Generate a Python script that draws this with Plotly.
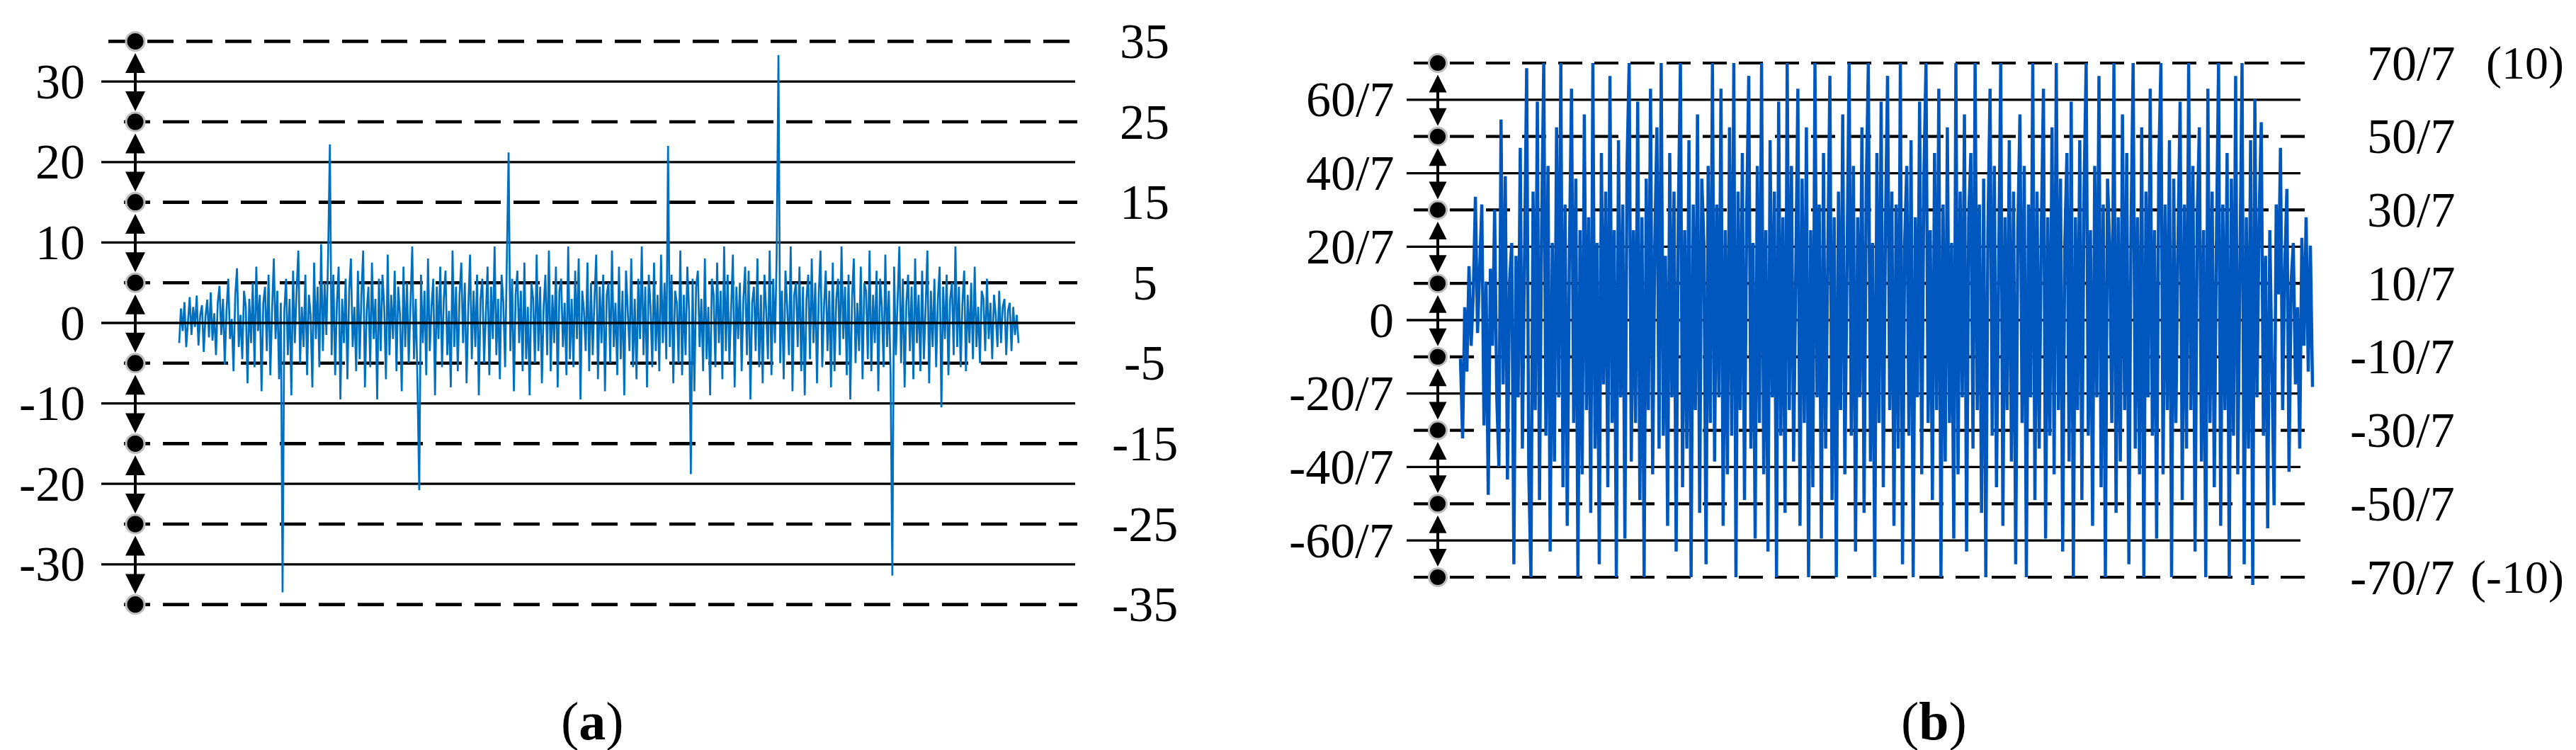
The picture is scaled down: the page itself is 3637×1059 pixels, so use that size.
import plotly.graph_objects as go

W, H = 3637, 1059
FONT = "Liberation Serif, Times New Roman, serif"

# ---- panel (a): values ----
sig_a = [
    -2.5, 1.8, -1.0, 2.6, -3.0, 0.5, 3.2, -1.5, 2.0, -0.5, 3.4, -2.8, 1.0, 2.2, -3.6, 0.8, 2.9, -1.8, 3.8, -2.2,
    1.2, -4.0, 2.5, 4.6, -1.5, 3.0, -5.2, 1.5, 5.5, -2.0, 0.5, -6.0, 3.5, 6.8, -3.0, 1.0, -4.5, 4.0, 2.0, -7.5,
    3.0, -2.5, 5.0, -5.5, 7.0, -1.0, 3.5, -8.5, 2.5, 4.5, -3.5, 6.0, -6.5, 1.5, 8.0, -2.0, 4.0, -7.0, 2.5, -33.5,
    1.5, 5.5, -4.0, 3.0, -9.0, 6.5, -2.5, 4.0, 9.0, -5.0, 2.0, -3.0, 6.0, -6.5, 3.5, 1.0, -8.0, 7.5, -2.0, 4.5,
    -5.5, 9.8, -3.5, 5.0, -1.5, 8.5, 22.2, -4.0, 6.0, -6.5, 2.5, 7.0, -9.5, 3.0, -2.5, 5.5, -7.0, 4.0, 8.0, -3.0,
    2.0, -6.0, 6.5, -4.5, 3.5, 9.0, -8.0, 1.5, 4.5, -5.5, 7.5, -2.0, 3.0, -9.5, 5.5, -3.5, 6.0, 2.0, -7.0, 8.5,
    -4.0, 3.5, -2.0, 6.5, -6.0, 4.5, 1.0, -8.5, 7.0, -3.0, 5.0, -5.0, 2.5, 9.5, -4.5, 3.0, -7.5, -20.8, 6.0, -2.5,
    4.0, -6.5, 8.0, -3.5, 2.0, 5.5, -9.0, 4.5, -2.0, 7.0, -5.5, 3.0, 6.5, -4.0, 1.5, -8.0, 9.0, -3.0, 4.5, -6.0,
    3.5, 7.5, -2.5, 5.0, -7.5, 2.0, 8.5, -4.5, 4.0, -3.0, 6.0, -9.0, 3.0, 5.5, -5.0, 1.5, 7.0, -6.5, 4.5, -2.0,
    9.5, -4.0, 3.0, -7.0, 6.0, 2.5, -5.5, 8.0, 21.2, -3.5, 5.5, -8.5, 3.5, 6.5, -2.5, 4.0, -6.0, 7.5, -4.5, 2.0,
    -9.0, 5.0, 3.0, -5.0, 8.5, -3.5, 4.5, -7.5, 2.0, 6.0, -4.0, 9.0, -6.0, 3.5, -2.5, 7.0, -8.0, 4.0, 5.5, -3.0,
    2.5, -6.5, 9.5, -4.5, 3.0, -5.5, 6.5, -2.0, 8.0, -9.5, 4.0, 1.5, -3.5, 7.5, -6.0, 5.0, -4.0, 3.0, 8.5, -7.0,
    4.5, -2.5, 6.0, -8.5, 3.5, 5.0, -5.0, 9.0, -3.0, 2.5, -6.5, 7.0, -4.5, 4.0, -9.0, 6.5, 1.5, -3.5, 8.0, -5.5,
    3.0, -7.0, 5.5, -2.0, 9.5, -4.0, 4.5, -8.0, 6.0, 2.0, -5.5, 7.5, -3.5, 3.5, -6.0, 8.5, -2.5, 5.0, -4.5, 22.0,
    -3.0, 6.0, -7.5, 4.0, 2.5, -5.0, 9.0, -6.5, 3.5, -4.0, 7.0, 1.5, -18.8, 5.5, -8.5, 4.5, 6.5, -3.0, 3.0, -6.0,
    8.0, -4.5, 2.0, -9.0, 5.5, 3.5, -5.5, 7.5, -2.5, 4.0, -7.0, 9.5, -3.5, 6.0, -5.0, 2.5, 8.5, -8.0, 4.5, -2.0,
    5.0, -6.0, 3.0, 7.0, -4.0, 6.5, -9.5, 2.5, 4.5, -3.5, 8.0, -5.5, 3.5, -7.5, 6.0, 1.5, -4.5, 9.0, -6.5, 5.5,
    -2.5, 8.5, 33.3, -5.0, 4.0, -7.0, 6.5, 2.0, -4.0, 9.5, -8.5, 3.5, 5.0, -3.0, 7.0, -6.0, 4.5, -9.0, 3.0, 6.0,
    -4.5, 8.0, -2.5, 5.0, -7.5, 3.5, 9.0, -5.5, 2.0, 6.5, -3.5, 4.0, -8.0, 7.5, -6.0, 3.0, 5.5, -4.0, 9.5, -2.0,
    4.5, -6.5, 6.0, -9.5, 3.0, 8.0, -5.0, 2.5, -3.5, 7.0, -7.0, 5.0, 4.0, -4.5, 9.0, -6.0, 3.5, -2.5, 6.5, -8.5,
    5.5, 2.0, -5.5, 8.5, -3.0, 4.0, -6.5, -31.4, 7.0, -4.0, 3.0, 9.5, -5.0, 5.5, -8.0, 2.5, 6.0, -3.5, 4.5, -7.0,
    8.0, -2.5, 3.5, -6.0, 6.5, -4.5, 2.0, 9.0, -7.5, 4.0, -3.0, 5.5, -5.5, 3.0, 7.0, -10.5, 4.5, -2.0, 6.0, -6.5,
    3.0, 5.0, -4.0, 9.5, -3.0, 4.5, -5.5, 2.5, 6.5, -6.0, 3.5, -2.5, 5.0, -4.5, 7.0, -3.0, 2.0, -5.0, 4.0, 3.0,
    -3.5, 5.5, -2.0, 2.5, -4.5, 3.5, 1.0, -3.0, 4.0, -2.5, 2.0, 3.0, -4.0, 1.5, 2.5, -3.5, 2.0, -1.5, 1.0, -2.5,
]
solid_a = [30, 20, 10, 0, -10, -20, -30]
dash_a = [35, 25, 15, 5, -5, -15, -25, -35]

# ---- panel (b): values ----
sig_b = [
    -1.5, -4.6, 0.5, -2.0, 2.1, -1.0, 1.0, 4.8, -0.5, 2.0, 4.5, -4.1, 1.5, -6.8, 2.0, -1.0, 4.3, -3.0, -5.7, 7.8,
    -2.5, 5.6, -6.2, 1.5, 3.0, -9.5, 2.5, -3.0, 6.7, -5.0, 4.0, 9.8, -6.0, -10.0, 5.0, -3.5, 8.5, -7.0, 3.5, 10.0,
    -4.5, 6.0, -9.0, 3.0, -5.5, 7.5, -3.0, 10.0, -6.5, 4.5, -8.0, 2.5, 9.0, -4.0, 5.5, -10.0, 3.5, -6.0, 8.0, -3.5,
    4.0, -7.5, 10.0, -5.0, 3.0, -9.5, 6.5, -2.5, 5.0, -6.5, 9.5, -4.0, 3.5, -10.0, 7.0, -3.0, 4.5, -8.5, 6.0, 10.0,
    -5.5, 3.5, -4.0, 8.5, -7.0, 4.0, -10.0, 5.5, -3.5, 9.0, -6.0, 3.0, 7.5, -5.0, 10.0, -4.5, 2.5, -8.0, 6.5, -3.0,
    5.0, -9.0, 4.0, 10.0, -6.5, 3.5, -5.0, 7.0, -10.0, 4.5, -3.5, 8.0, -7.5, 5.5, 3.0, -9.5, 6.0, -4.0, 10.0, -5.5,
    4.5, -3.0, 9.0, -8.0, 3.5, -6.0, 7.5, -4.5, 10.0, -10.0, 5.0, -3.5, 6.5, -7.0, 4.0, 9.5, -5.0, 3.0, -8.5, 6.0,
    -4.0, 10.0, -6.0, 3.5, -9.0, 7.0, -3.0, 5.0, -10.0, 8.5, -4.5, 4.0, -7.5, 10.0, -3.5, 6.0, -5.5, 3.0, 9.0, -8.0,
    5.5, -4.0, 7.5, -10.0, 3.5, -6.5, 10.0, -3.0, 4.5, -8.5, 6.5, -5.0, 3.0, 9.5, -7.0, 4.0, -10.0, 5.0, -3.5, 8.0,
    -6.0, 3.5, 10.0, -4.5, 6.0, -9.0, 4.0, -3.0, 7.5, -7.5, 5.0, 10.0, -5.5, 3.0, -10.0, 6.5, -4.0, 8.5, -6.5, 3.5,
    9.5, -3.5, 5.0, -8.0, 4.5, -5.0, 10.0, -9.5, 3.0, 6.0, -4.5, 7.0, -10.0, 4.0, -3.0, 8.5, -6.0, 5.5, 10.0, -4.0,
    3.5, -7.0, 6.5, -3.5, 9.0, -10.0, 4.5, -5.5, 7.5, -4.0, 3.0, -8.5, 10.0, -6.0, 5.0, -3.0, 8.0, -9.0, 4.0, 6.5,
    -5.0, 10.0, -3.5, 4.5, -7.5, 5.5, -10.0, 3.5, 9.0, -4.5, 6.0, -6.5, 3.0, 10.0, -8.0, 4.0, -3.5, 7.0, -5.5, 5.0,
    -9.5, 3.5, 8.0, -4.0, 6.0, -10.0, 4.5, -3.0, 10.0, -7.0, 5.0, -5.0, 3.5, 9.0, -8.5, 4.0, -4.5, 7.5, -6.0, 10.0,
    -3.5, 5.5, -9.0, 3.0, 6.5, -5.5, 8.5, -10.0, 4.0, -3.5, 7.0, -7.0, 5.0, 10.0, -4.5, 3.5, -8.0, 6.0, -3.0, 9.5,
    -6.5, 4.5, -10.0, 5.5, 3.0, -4.0, 10.0, -7.5, 4.0, -5.5, 8.0, -3.5, 6.5, -9.5, 3.5, 10.0, -5.0, 4.0, -6.0, 7.5,
    -10.0, 5.0, -3.0, 9.0, -4.5, 3.5, -8.5, 6.0, 10.0, -6.0, 4.5, -3.5, 7.0, -10.0, 5.5, -4.0, 3.0, 8.5, -7.0, 4.5,
    -5.0, 10.0, -3.5, 6.0, -9.0, 4.0, 7.5, -5.5, 3.5, -10.0, 9.0, -4.0, 5.0, -6.5, 3.0, 10.0, -8.0, 4.5, -3.5, 6.5,
    -10.0, 5.5, -4.5, 9.5, -6.0, 3.5, 10.0, -9.5, 4.0, -5.0, 7.0, -10.3, 8.6, -3.0, 4.0, 7.7, -4.5, 2.5, -8.1, 3.5,
    -2.0, -7.2, 4.5, 1.0, 6.7, -3.5, 2.0, 5.1, -5.9, 1.5, 3.0, -2.5, 0.5, -5.0, 3.2, -1.0, 4.0, -2.0, 2.9, -2.6,
]
solid_b_num = [60, 40, 20, 0, -20, -40, -60]
dash_b_num = [70, 50, 30, 10, -10, -30, -50, -70]
extra_b = {70: "(10)", -70: "(-10)"}


def xp(p):
    return p / W


def ydom(top, bottom):
    return [1 - bottom / H, 1 - top / H]


def xrange_for(n, dom, data):
    ppi = (data[1] - data[0]) / (n - 1)
    return [-(data[0] - dom[0]) / ppi, n - 1 + (dom[1] - data[1]) / ppi]


fig = go.Figure()
fig.add_trace(go.Scatter(x=list(range(len(sig_a))), y=sig_a, mode="lines",
                         line=dict(color="#0070C0", width=2.7), xaxis="x", yaxis="y", hoverinfo="skip"))
fig.add_trace(go.Scatter(x=list(range(len(sig_b))), y=sig_b, mode="lines",
                         line=dict(color="#0058BE", width=4.5), xaxis="x2", yaxis="y2", hoverinfo="skip"))

dom_a, dom_b = [135, 1513], [1978, 3262]
ax_off = dict(visible=False, showgrid=False, zeroline=False)
fig.update_layout(
    width=W, height=H, margin=dict(l=0, r=0, t=0, b=0),
    paper_bgcolor="white", plot_bgcolor="white", showlegend=False,
    xaxis=dict(domain=[xp(dom_a[0]), xp(dom_a[1])], range=xrange_for(len(sig_a), dom_a, [245, 1430]), **ax_off),
    yaxis=dict(domain=ydom(448 - 38 * 11.36, 448 + 38 * 11.36), range=[-38, 38], **ax_off),
    xaxis2=dict(domain=[xp(dom_b[0]), xp(dom_b[1])], range=xrange_for(len(sig_b), dom_b, [2054, 3257]),
                anchor="y2", **ax_off),
    yaxis2=dict(domain=ydom(444 - 11 * 36.3, 444 + 11 * 36.3), range=[-11, 11], anchor="x2", **ax_off),
)


def hline(y, yref, x0, x1, width, dash="solid", layer="below"):
    fig.add_shape(type="line", xref="paper", yref=yref, x0=xp(x0), x1=xp(x1), y0=y, y1=y,
                  line=dict(color="black", width=width, dash=dash), layer=layer)


def dot(y, yref, xc, r):
    fig.add_shape(type="circle", xref="paper", yref=yref, xsizemode="pixel", ysizemode="pixel",
                  xanchor=xp(xc), yanchor=y, x0=-r, x1=r, y0=-r, y1=r,
                  fillcolor="black", line=dict(color="#BDBDBD", width=3), layer="above")


def darrow(y_top, y_bot, yref, xc, size):
    fig.add_annotation(x=xp(xc), y=y_bot, xref="paper", yref=yref, ax=0, ay=y_top, axref="pixel", ayref=yref,
                       text="", showarrow=True, arrowside="end+start", arrowhead=2, startarrowhead=2,
                       arrowsize=size, startarrowsize=size, arrowwidth=4, arrowcolor="black",
                       standoff=15, startstandoff=15)


def label(txt, x, y, yref, anchor, size=70):
    fig.add_annotation(x=xp(x), y=y, xref="paper", yref=yref, text=txt, showarrow=False,
                       xanchor=anchor, yanchor="middle", font=dict(family=FONT, size=size, color="black"))


# panel (a) guides
for v in solid_a:
    hline(v, "y", 135, 1510, 3.3, layer="above" if v == 0 else "below")
    label(str(v), 114, v, "y", "right")
for i, v in enumerate(dash_a):
    hline(v, "y", 145 if i == 0 else 167, 1513, 4.6, dash="37px,18px")
    dot(v, "y", 183, 13)
    label(str(v), 1608, v, "y", "center")
for top, bot in zip(dash_a[:-1], dash_a[1:]):
    darrow(top, bot, "y", 183, 1.4)

# panel (b) guides
for n in solid_b_num:
    hline(n / 7, "y2", 1978, 3240, 3.3)
    label("0" if n == 0 else f"{n}/7", 1962, n / 7, "y2", "right")
for i, n in enumerate(dash_b_num):
    hline(n / 7, "y2", 1988, 3250, 4.2, dash="34px,17px")
    dot(n / 7, "y2", 2022, 12.5)
    label(f"{n}/7", 3460, n / 7, "y2", "right")
    if n in extra_b:
        label(extra_b[n], 3614, n / 7, "y2", "right", size=66)
for top, bot in zip(dash_b_num[:-1], dash_b_num[1:]):
    darrow(top / 7, bot / 7, "y2", 2022, 1.25)

# panel captions
for txt, xc in [("(<b>a</b>)", 828), ("(<b>b</b>)", 2722)]:
    fig.add_annotation(x=xp(xc), y=1 - 1010 / H, xref="paper", yref="paper", text=txt, showarrow=False,
                       xanchor="center", yanchor="middle", font=dict(family=FONT, size=76, color="black"))

fig.write_html("out.html")
